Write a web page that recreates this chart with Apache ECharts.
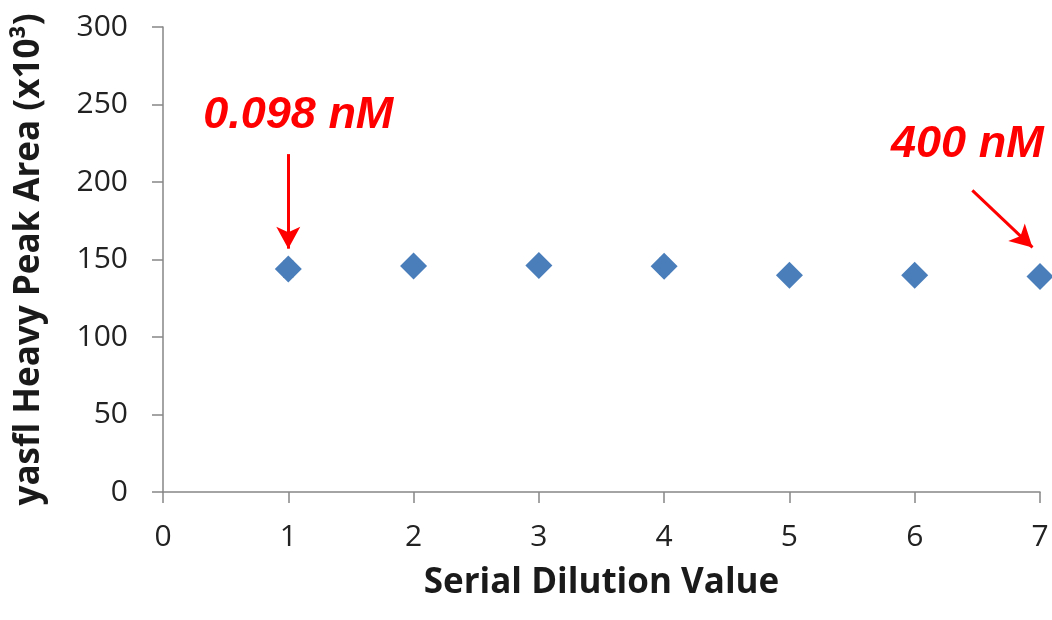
<!DOCTYPE html>
<html>
<head>
<meta charset="utf-8">
<script src="https://cdn.jsdelivr.net/npm/echarts@6/dist/echarts.min.js"></script>
<style>html,body{margin:0;padding:0;background:#fff}#c{width:1052px;height:620px}</style>
</head>
<body>
<div id="c"></div>
<script>
const dilution = [1, 2, 3, 4, 5, 6, 7];
const peakArea = [143.8, 145.8, 146.2, 145.6, 139.9, 139.9, 139.0];
const peakErr = [5, 1, 3, 5, 1, 1, 5];
const yTicks = [0, 50, 100, 150, 200, 250, 300];
const xTicks = [0, 1, 2, 3, 4, 5, 6, 7];
const labelText = ['0.098 nM', '400 nM'];
const labelPos = [[1.08, 243], [6.42, 224]];
const arrows = [[[1, 218], [1, 157]], [[6.46, 194.6], [6.94, 157.8]]];

const chart = echarts.init(document.getElementById('c'), null, {renderer: 'canvas'});
const font = 'Open Sans';
chart.setOption({
  animation: false,
  backgroundColor: '#fff',
  grid: {left: 163, right: 12, top: 27, bottom: 128, containLabel: false},
  xAxis: {
    type: 'value', min: xTicks[0], max: xTicks[xTicks.length - 1], interval: 1,
    name: 'Serial Dilution Value', nameLocation: 'middle', nameGap: 74,
    nameTextStyle: {fontFamily: font, fontSize: 35, fontWeight: 'bold', color: '#1a1a1a'},
    axisLine: {onZero: false, lineStyle: {color: '#868686', width: 1.5}},
    axisTick: {show: true, inside: false, length: 11, lineStyle: {color: '#868686', width: 1.5}},
    axisLabel: {fontFamily: font, fontSize: 30, color: '#222', margin: 30},
    splitLine: {show: false}
  },
  yAxis: {
    type: 'value', min: yTicks[0], max: yTicks[yTicks.length - 1], interval: 50,
    name: 'yasfl Heavy Peak Area (x10³)', nameLocation: 'middle', nameGap: 116,
    nameTextStyle: {fontFamily: font, fontSize: 35, fontWeight: 'bold', color: '#1a1a1a'},
    axisLine: {show: true, onZero: false, lineStyle: {color: '#868686', width: 1.5}},
    axisTick: {show: true, inside: false, length: 11, lineStyle: {color: '#868686', width: 1.5}},
    axisLabel: {fontFamily: font, fontSize: 30, color: '#222', margin: 35},
    splitLine: {show: false}
  },
  series: [
    {
      type: 'custom',
      data: dilution.map((x, i) => [x, peakArea[i] - peakErr[i], peakArea[i] + peakErr[i]]),
      renderItem: function (params, api) {
        const lo = api.coord([api.value(0), api.value(1)]);
        const hi = api.coord([api.value(0), api.value(2)]);
        const w = 5;
        const st = {stroke: '#333', lineWidth: 1.5};
        return {type: 'group', children: [
          {type: 'line', shape: {x1: lo[0], y1: lo[1], x2: hi[0], y2: hi[1]}, style: st},
          {type: 'line', shape: {x1: lo[0] - w, y1: lo[1], x2: lo[0] + w, y2: lo[1]}, style: st},
          {type: 'line', shape: {x1: hi[0] - w, y1: hi[1], x2: hi[0] + w, y2: hi[1]}, style: st}
        ]};
      },
      z: 1
    },
    {
      type: 'scatter',
      data: dilution.map((x, i) => [x, peakArea[i]]),
      symbol: 'diamond', symbolSize: [27, 27],
      itemStyle: {color: '#4a7ebb', opacity: 1},
      z: 3,
      markLine: {
        silent: true, symbol: ['none', 'arrow'], symbolSize: [18, 22],
        lineStyle: {color: '#ff0000', width: 3, type: 'solid'},
        label: {show: false},
        data: arrows.map(a => [{coord: a[0]}, {coord: a[1]}])
      },
      markPoint: {
        silent: true, symbol: 'circle', symbolSize: 0,
        label: {show: true, position: 'inside', fontFamily: 'Liberation Sans', fontSize: 45,
                fontWeight: 'bold', fontStyle: 'italic', color: '#ff0000',
                formatter: p => p.name},
        data: labelText.map((t, i) => ({name: t, coord: labelPos[i]}))
      }
    }
  ]
});
</script>
</body>
</html>
